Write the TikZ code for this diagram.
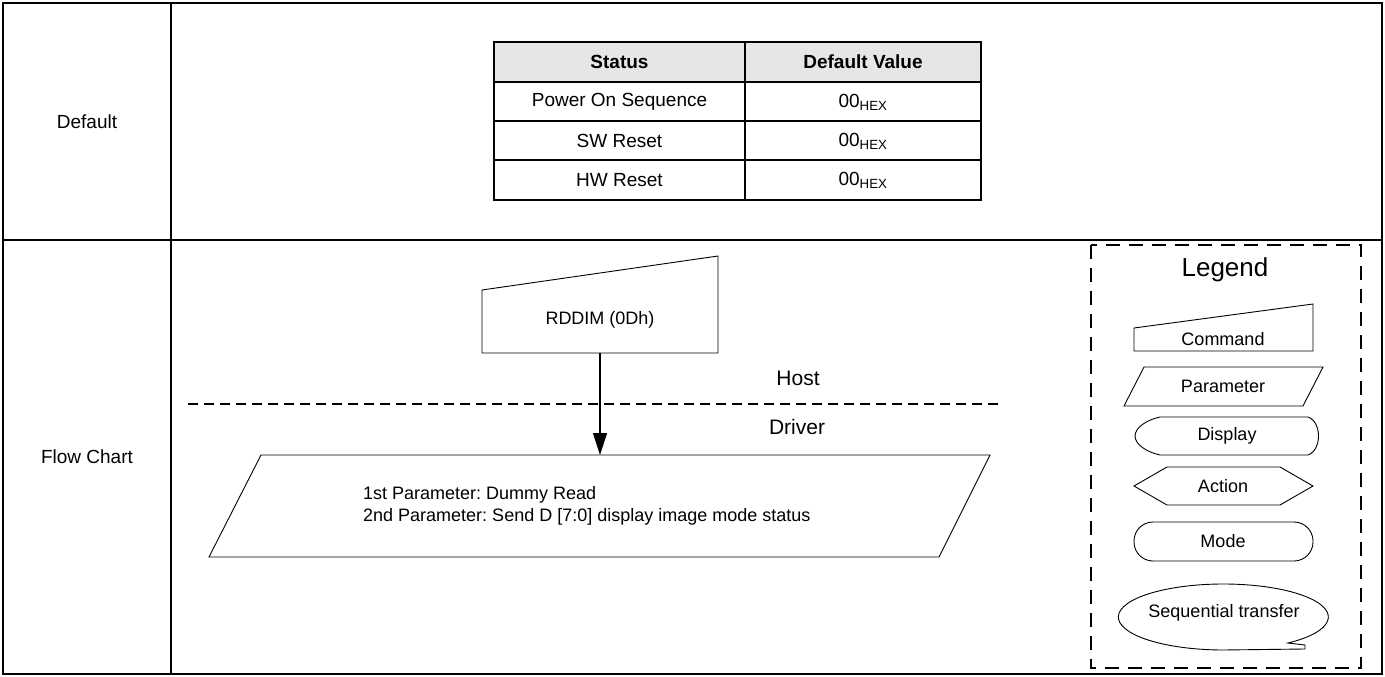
\documentclass[tikz,border=0pt]{standalone}
\usepackage{fontspec}
\setmainfont{Liberation Sans}
\usetikzlibrary{arrows.meta}
\definecolor{hdrgray}{HTML}{E6E6E6}
\frenchspacing
\begin{document}
\begin{tikzpicture}[x=1pt,y=-1pt,
  frameline/.style={line width=1.6pt},
  tblline/.style={line width=1.4pt},
  shp/.style={line width=0.9pt},
  dashsep/.style={line width=1.3pt, dash pattern=on 10pt off 6pt},
  dashbox/.style={line width=1.4pt, dash pattern=on 14pt off 9pt},
  t20/.style={font=\fontsize{19}{23}\selectfont, inner sep=0pt},
  t20b/.style={font=\fontsize{19}{23}\selectfont\bfseries, inner sep=0pt},
  t19/.style={font=\fontsize{18}{22}\selectfont, inner sep=0pt},
  tparam/.style={font=\fontsize{18}{22}\selectfont, inner sep=0pt, align=left},
  thost/.style={font=\fontsize{21}{25}\selectfont, inner sep=0pt},
  tleg/.style={font=\fontsize{26}{30}\selectfont, inner sep=0pt},
  tlegitem/.style={font=\fontsize{18}{22}\selectfont, inner sep=0pt}]
\useasboundingbox (0,0) rectangle (1385,677);
\fill[white] (0,0) rectangle (1385,677);

% outer frame
\draw[frameline] (3,3) rectangle (1382,674);
\draw[frameline] (171,3) -- (171,674);
\draw[frameline] (3,240) -- (1382,240);

\node[t20] (ldefault) at (87,122) {Default};
\node[t20] (lflow) at (87,457) {Flow Chart};

% table
\fill[hdrgray] (494,42) rectangle (981,82);
\draw[tblline] (494,42) rectangle (981,200);
\draw[tblline] (494,82) -- (981,82);
\draw[tblline] (494,121) -- (981,121);
\draw[tblline] (494,160) -- (981,160);
\draw[tblline] (745,42) -- (745,200);
\node[t20b] (hstatus) at (619.5,62) {Status};
\node[t20b] (hdefval) at (863,62) {Default Value};
\node[t20] (s1) at (619.5,102) {Power On Sequence};
\node[t20] (s2) at (619.5,141) {SW Reset};
\node[t20] (s3) at (619.5,180) {HW Reset};
\node[t20] (v1) at (863,102) {00\textsubscript{HEX}};
\node[t20] (v2) at (863,141) {00\textsubscript{HEX}};
\node[t20] (v3) at (863,180) {00\textsubscript{HEX}};

% command box
\draw[shp] (482,290) -- (718,256) -- (718,353) -- (482,353) -- cycle;
\node[t19] (cmd) at (600,320) {RDDIM (0Dh)};
\coordinate (cmdbot) at (600,353);
\coordinate (partop) at (600,455);

% host/driver separator
\draw[dashsep] (188,404) -- (1002,404);
\node[thost] (host) at (798,378) {Host};
\node[thost] (driver) at (797,427) {Driver};

% arrow
\draw[line width=1.1pt, -{Triangle[length=22pt,width=14pt]}] (cmdbot) -- (partop);

% parameter parallelogram
\draw[shp] (261,455) -- (990,455) -- (939,557) -- (209,557) -- cycle;
\node[tparam, anchor=west] (par) at (363,506) {1st Parameter: Dummy Read\\2nd Parameter: Send D [7:0] display image mode status};

% legend
\draw[dashbox] (1091,245) rectangle (1361,668);
\node[tleg] (legtitle) at (1225,270) {Legend};

\draw[shp] (1134,328) -- (1313,304) -- (1313,351) -- (1134,351) -- cycle;
\node[tlegitem] (lcmd) at (1223,339) {Command};

\draw[shp] (1144,367) -- (1323,367) -- (1303,406) -- (1124,406) -- cycle;
\node[tlegitem] (lpar) at (1223,386) {Parameter};

\draw[shp] (1160,417) -- (1308,417) .. controls (1322,422) and (1322,450) .. (1308,455) -- (1160,455) .. controls (1146,452) and (1135,444) .. (1135,436) .. controls (1135,428) and (1146,420) .. (1160,417) -- cycle;
\node[tlegitem] (ldisp) at (1227,436) {Display};

\draw[shp] (1134,486) -- (1167,467) -- (1280,467) -- (1313,486) -- (1280,505) -- (1167,505) -- cycle;
\node[tlegitem] (lact) at (1223,486) {Action};

\draw[shp, rounded corners=19pt] (1134,522) rectangle (1313,561);
\node[tlegitem] (lmode) at (1223,541) {Mode};

\draw[shp] (1305,645) -- (1288,643) arc[start angle=-52, end angle=270, x radius=105pt, y radius=33pt] -- (1305,649) -- cycle;
\node[tlegitem] (lseq) at (1224,613) {Sequential transfer};
\end{tikzpicture}
\end{document}
